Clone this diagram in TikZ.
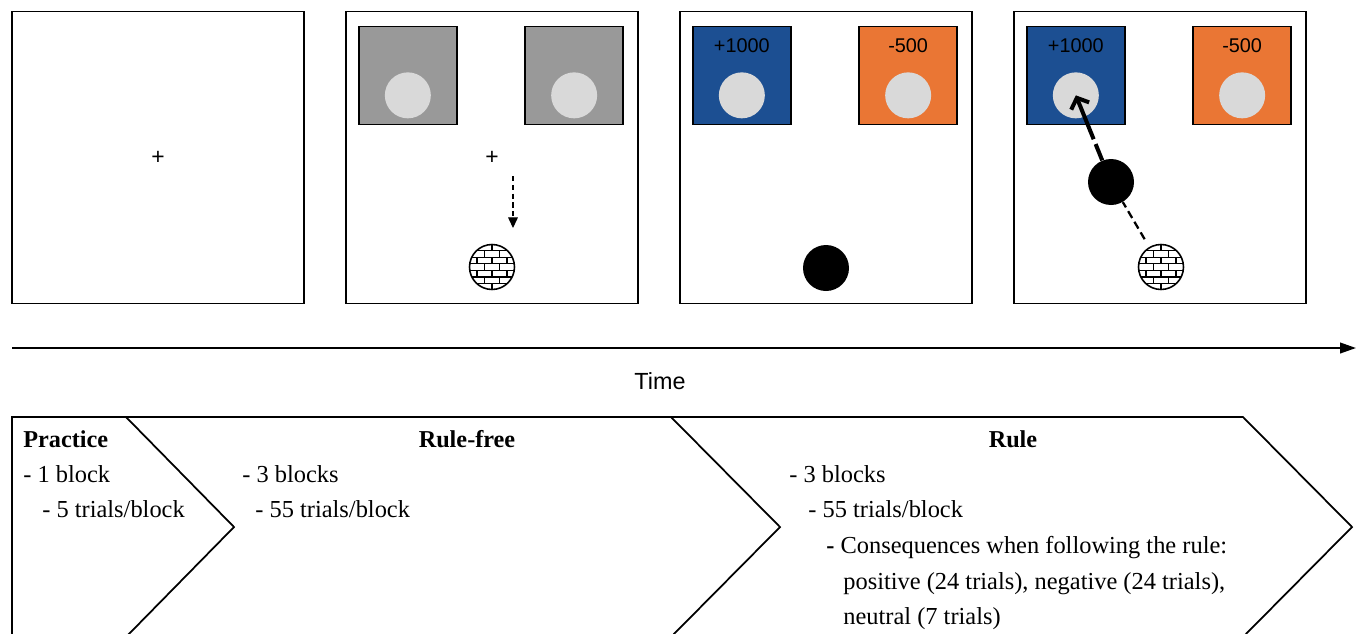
\documentclass[tikz,border=0pt]{standalone}
\usepackage{fontspec}
\setmainfont{Liberation Serif}
\setsansfont{Liberation Sans}
\usetikzlibrary{arrows.meta,positioning}

\definecolor{rewardblue}{RGB}{28,79,146}
\definecolor{lossorange}{RGB}{234,118,52}
\definecolor{boxgray}{RGB}{153,153,153}
\definecolor{targetgray}{RGB}{217,217,217}

\begin{document}
\begin{tikzpicture}[x=0.02cm,y=-0.02cm,
  panel/.style={draw,line width=1pt,minimum size=5.84cm,inner sep=0pt},
  option/.style={draw,line width=0.8pt,minimum size=1.96cm,inner sep=0pt},
  target/.style={circle,fill=targetgray,minimum size=0.92cm,inner sep=0pt},
  ball/.style={circle,fill=black,minimum size=0.92cm,inner sep=0pt},
  brick/.style={circle,draw,line width=0.9pt,fill=white,minimum size=0.9cm,inner sep=0pt,
    path picture={
      \begin{scope}[shift={(path picture bounding box.center)},x=1cm,y=1cm,line width=0.6pt]
        \foreach \k in {-4,...,3} {
          \draw (-0.5,\k*0.133+0.066) -- (0.5,\k*0.133+0.066);
          \foreach \j in {-2,...,2}
            \draw ({\j*0.3+Mod(\k,2)*0.15},\k*0.133+0.066) -- ++(0,0.133);
        }
      \end{scope}}},
  fixation/.style={font=\sffamily\fontsize{13}{13}\selectfont,inner sep=0pt},
  points/.style={font=\sffamily\fontsize{11.3}{13}\selectfont,anchor=base,inner sep=0pt},
  phase/.style={font=\bfseries\fontsize{13.8}{16}\selectfont,anchor=base,inner sep=0pt},
  item/.style={font=\fontsize{13.9}{16}\selectfont,anchor=base west,inner sep=0pt}]

\useasboundingbox (0,0) rectangle (1360,633);

% screens
\foreach \i/\cx in {1/158,2/492,3/826,4/1160}
  \node[panel] (p\i) at (\cx,157.5) {};

\foreach \i/\lc/\rc in {2/boxgray/boxgray,3/rewardblue/lossorange,4/rewardblue/lossorange} {
  \node[option,fill=\lc,below right=0.3cm and 0.26cm of p\i.north west] (l\i) {};
  \node[option,fill=\rc,below left=0.3cm and 0.3cm of p\i.north east] (r\i) {};
  \node[target] (tl\i) at ([yshift=-0.4cm]l\i.center) {};
  \node[target] (tr\i) at ([yshift=-0.4cm]r\i.center) {};
}
\foreach \i in {3,4} {
  \node[points] (gain\i) at ([yshift=-0.54cm]l\i.north) {+1000};
  \node[points] (loss\i) at ([yshift=-0.54cm]r\i.north) {-500};
}

\node[fixation] (f1) at (p1.center) {+};
\node[fixation] (f2) at (p2.center) {+};

\coordinate (s2) at (513,176);
\coordinate (e2) at (513,228);
\draw[line width=0.6pt,dash pattern=on 3pt off 2pt,-{Triangle[length=6pt,width=5.5pt]}] (s2) -- (e2);
\node[brick] (b2) at (492,267) {};

\node[ball] (k3) at (826,268) {};

\node[brick] (b4) at (1161,267) {};
\node[ball] (k4) at (1111,182) {};
\draw[line width=1.3pt,dash pattern=on 4.5pt off 2.5pt,shorten <=0.18cm] (b4) -- (k4);
\draw[line width=2.3pt,dash pattern=on 10pt off 3pt on 30pt off 3pt,
  -{Straight Barb[length=5pt,width=11pt]}] (k4) -- (tl4.center);

% time axis
\coordinate (t0) at (12,348);
\coordinate (t1) at (1356,348);
\draw[line width=1.1pt,-{Triangle[length=9pt,width=6pt]}] (t0) -- (t1);
\node[font=\sffamily\fontsize{13.3}{15}\selectfont,anchor=base] (time) at (660,389) {Time};

% phases
\draw[line width=1pt] (12,640) -- (12,417) -- (1243,417) -- (1352,527) -- (1243,637);
\draw[line width=1pt] (126,417) -- (234,527) -- (126,637);
\draw[line width=1pt] (671,417) -- (780,527) -- (671,637);

\node[phase,anchor=base west] (prac) at (23,447) {Practice};
\node[item] at (23,482) {- 1 block};
\node[item] at (42,517) {- 5 trials/block};

\node[phase] (free) at (467,447) {Rule-free};
\node[item] at (242,482) {- 3 blocks};
\node[item] at (255,517) {- 55 trials/block};

\node[phase] (rule) at (1013,447) {Rule};
\node[item] at (789,482) {- 3 blocks};
\node[item] at (808,517) {- 55 trials/block};
\node[item] at (826,553) {\textbf{-} Consequences when following the rule:};
\node[item] at (843,589) {positive (24 trials), negative (24 trials),};
\node[item] at (843,624) {neutral (7 trials)};

\end{tikzpicture}
\end{document}
